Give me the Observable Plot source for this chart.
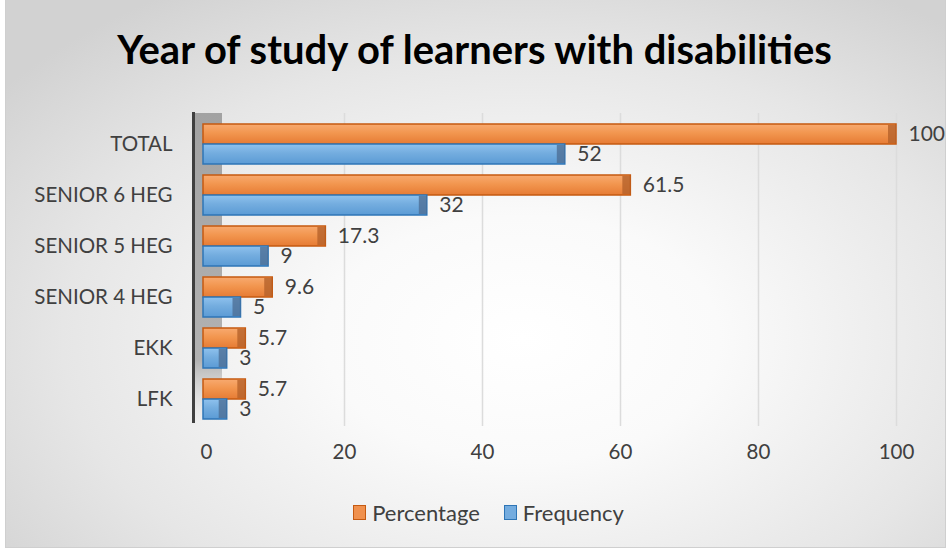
<!DOCTYPE html>
<html><head><meta charset="utf-8">
<script src="https://cdn.jsdelivr.net/npm/d3@7"></script>
<script src="https://cdn.jsdelivr.net/npm/@observablehq/plot@0.6"></script>
<style>
html,body{margin:0;padding:0;background:#fff;}
#chart{position:relative;width:949px;height:550px;overflow:hidden;font-family:Lato,"Open Sans",sans-serif;}
#bg{position:absolute;left:5px;top:-1px;width:939px;height:547px;border:1px solid #cfcfcf;
  background:radial-gradient(ellipse 70% 75% at 55% 62%, #ffffff 0%, #fafafa 30%, #e6e6e6 70%, #d2d2d2 100%);}
#title{position:absolute;left:0;width:949px;top:30px;text-align:center;font-weight:bold;color:#000;white-space:nowrap;line-height:1;}
#plot{position:absolute;left:0;top:95px;}
#legend{position:absolute;top:499px;left:14px;width:949px;display:flex;justify-content:center;align-items:center;gap:24px;font-size:22px;color:#404040;}
.item{display:flex;align-items:center;gap:6px;}
.sw{width:11px;height:13px;border:1.5px solid;}
</style></head>
<body>
<div id="chart">
  <div id="bg"></div>
  <div id="title">Year of study of learners with disabilities</div>
  <div id="plot"></div>
  <div id="legend"></div>
</div>
<script>
const categories = ["TOTAL", "SENIOR 6 HEG", "SENIOR 5 HEG", "SENIOR 4 HEG", "EKK", "LFK"];
const percentage = [100, 61.5, 17.3, 9.6, 5.7, 5.7];
const frequency = [52, 32, 9, 5, 3, 3];
const seriesNames = ["Percentage", "Frequency"];
const xTicks = [0, 20, 40, 60, 80, 100];
const seriesColors = {Percentage: {fill: "#f0914e", stroke: "#c55a11"}, Frequency: {fill: "#74acdf", stroke: "#2e75b6"}};

const FONT = 'Lato, "Open Sans", sans-serif';

// fit title width
(function(){
  const t = document.getElementById("title");
  const c = document.createElement("canvas").getContext("2d");
  c.font = `bold 100px ${FONT}`;
  const w = c.measureText(t.textContent).width;
  t.style.fontSize = (100 * 719 / w).toFixed(2) + "px";
  t.style.fontFamily = FONT;
})();

const pct = categories.map((c, i) => ({category: c, series: "Percentage", value: percentage[i]}));
const frq = categories.map((c, i) => ({category: c, series: "Frequency", value: frequency[i]}));

const half = 20;
const plot = Plot.plot({
  width: 949, height: 385,
  marginTop: 22, marginBottom: 54, marginLeft: 206, marginRight: 53,
  style: {background: "transparent", fontFamily: FONT, fontSize: "20.5px", color: "#404040", overflow: "visible"},
  x: {domain: [0, 100], ticks: xTicks, tickSize: 0, tickPadding: 18, label: null},
  y: {domain: categories, paddingInner: 0.22, paddingOuter: 0.11, tickSize: 0, tickPadding: 34, label: null},
  marks: [
    Plot.ruleX(xTicks.slice(1), {stroke: "#dcdcdc", strokeWidth: 1.5, insetTop: -4}),
    Plot.barX([0], {x1: d => d, x2: d => d, insetLeft: -12, insetRight: -16, insetTop: -4, insetBottom: 4, fill: "url(#wallGrad)"}),
    Plot.ruleX([0], {dx: -13, stroke: "#3f3f3f", strokeWidth: 3, insetTop: -5, insetBottom: 3}),
    Plot.barX(pct, {x1: d => 0, x2: "value", y: "category", insetBottom: half, insetLeft: -3, fill: "url(#orangeGrad)", stroke: "#c55a11", strokeWidth: 1.5}),
    Plot.barX(pct, {x1: "value", x2: "value", y: "category", insetBottom: half + 1, insetTop: 1, insetLeft: -8, fill: "#b5612b", fillOpacity: 0.8}),
    Plot.barX(frq, {x1: d => 0, x2: "value", y: "category", insetTop: half, insetLeft: -3, fill: "url(#blueGrad)", stroke: "#2e75b6", strokeWidth: 1.5}),
    Plot.barX(frq, {x1: "value", x2: "value", y: "category", insetTop: half + 1, insetBottom: 1, insetLeft: -8, fill: "#4d6f96", fillOpacity: 0.8}),
    Plot.text(pct, {x: "value", y: "category", text: d => String(d.value), dy: -10, dx: 12, textAnchor: "start", fill: "#404040", fontSize: 21}),
    Plot.text(frq, {x: "value", y: "category", text: d => String(d.value), dy: 10, dx: 12, textAnchor: "start", fill: "#404040", fontSize: 21})
  ]
});

const svg = d3.select(plot);
const defs = svg.insert("defs", ":first-child");
function grad(id, stops, vertical = true) {
  const g = defs.append("linearGradient").attr("id", id)
    .attr("x1", 0).attr("y1", 0).attr("x2", vertical ? 0 : 1).attr("y2", vertical ? 1 : 0);
  stops.forEach(([o, c, op]) => g.append("stop").attr("offset", o).attr("stop-color", c).attr("stop-opacity", op == null ? 1 : op));
}
grad("orangeGrad", [["0%", "#f8aa70"], ["45%", "#f2964f"], ["100%", "#e67b34"]]);
grad("blueGrad", [["0%", "#8fc2ee"], ["45%", "#74addf"], ["100%", "#5b9bd5"]]);
grad("wallGrad", [["0%", "#a2a2a2"], ["80%", "#b2b2b2"], ["100%", "#d8d8d8", 0]]);

document.getElementById("plot").appendChild(plot);

const legend = document.getElementById("legend");
seriesNames.forEach(s => {
  const it = document.createElement("div"); it.className = "item";
  const sw = document.createElement("div"); sw.className = "sw";
  sw.style.background = seriesColors[s].fill; sw.style.borderColor = seriesColors[s].stroke;
  const tx = document.createElement("span"); tx.textContent = s;
  it.appendChild(sw); it.appendChild(tx); legend.appendChild(it);
});
</script>
</body></html>
